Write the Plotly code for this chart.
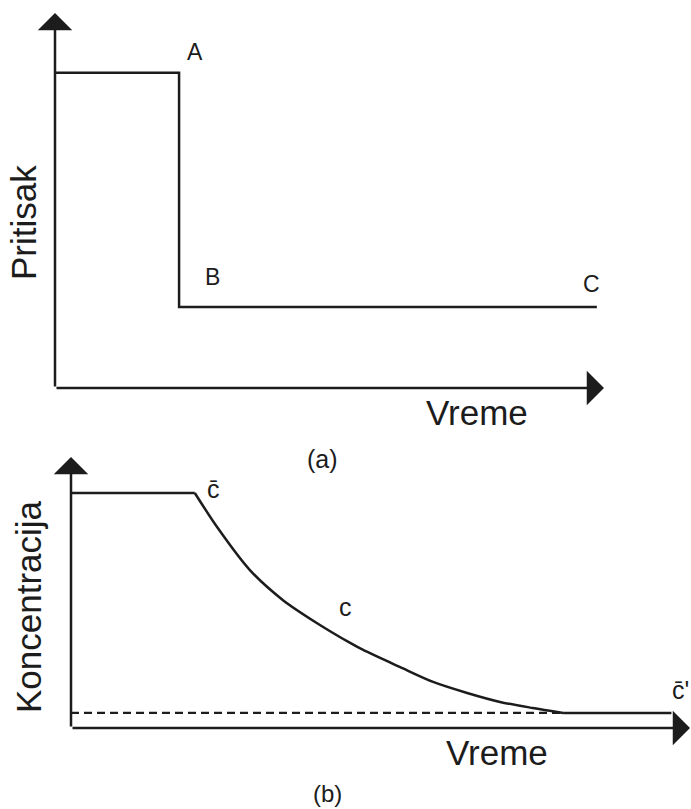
import plotly.graph_objects as go

W, H = 691, 809

# ---- Panel (a): pressure vs time (step) ----
t_a = [0, 2.26, 2.26, 9.87]
p_a = [1.0, 1.0, 0.257, 0.257]
a_xmax, a_ymax = 10, 1.19

# ---- Panel (b): concentration vs time ----
t_flat = [0, 2.0]
c_flat = [1.0, 1.0]
t_curve = [2.0, 2.36, 2.89, 3.42, 3.97, 4.51, 4.72, 5.31, 5.85, 6.40, 6.93, 7.46, 7.95]
c_curve = [1.0, 0.855, 0.672, 0.545, 0.447, 0.362, 0.332, 0.260, 0.196, 0.149, 0.111, 0.085, 0.064]
t_tail = [7.95, 9.7]
c_tail = [0.064, 0.064]
t_dash = [0, 7.95]
c_dash = [0.064, 0.064]
b_xmax, b_ymax = 10, 1.153

INK = "#1c1c1c"
FONT = "Liberation Sans, Arial, sans-serif"


def px(x):
    return x / W


def py(y):
    return 1 - y / H


fig = go.Figure()
lw = 2.5
fig.add_trace(go.Scatter(x=t_a, y=p_a, mode="lines", line=dict(color=INK, width=lw),
                         xaxis="x", yaxis="y", hoverinfo="skip"))
fig.add_trace(go.Scatter(x=t_flat, y=c_flat, mode="lines", line=dict(color=INK, width=lw),
                         xaxis="x2", yaxis="y2", hoverinfo="skip"))
fig.add_trace(go.Scatter(x=t_curve, y=c_curve, mode="lines",
                         line=dict(color=INK, width=lw, shape="spline", smoothing=0.8),
                         xaxis="x2", yaxis="y2", hoverinfo="skip"))
fig.add_trace(go.Scatter(x=t_tail, y=c_tail, mode="lines", line=dict(color=INK, width=lw),
                         xaxis="x2", yaxis="y2", hoverinfo="skip"))
fig.add_trace(go.Scatter(x=t_dash, y=c_dash, mode="lines",
                         line=dict(color=INK, width=2.2, dash="8px,5px"),
                         xaxis="x2", yaxis="y2", hoverinfo="skip"))

ax_common = dict(visible=False, fixedrange=True)
fig.update_layout(
    width=W, height=H,
    margin=dict(l=0, r=0, t=0, b=0),
    paper_bgcolor="white", plot_bgcolor="white",
    showlegend=False,
    xaxis=dict(domain=[px(55), px(604)], range=[0, a_xmax], anchor="y", **ax_common),
    yaxis=dict(domain=[py(388), py(13)], range=[0, a_ymax], anchor="x", **ax_common),
    xaxis2=dict(domain=[px(71), px(690)], range=[0, b_xmax], anchor="y2", **ax_common),
    yaxis2=dict(domain=[py(728), py(457)], range=[0, b_ymax], anchor="x2", **ax_common),
)

ann = []


def arrow(xref, yref, x, y, ax, ay):
    ann.append(dict(xref=xref, yref=yref, axref=xref, ayref=yref, x=x, y=y, ax=ax, ay=ay,
                    showarrow=True, arrowhead=1, arrowsize=2.3, arrowwidth=2.5,
                    arrowcolor=INK, standoff=0, text=""))


# axes arrows
arrow("x", "y", a_xmax, 0, 0, 0)
arrow("x", "y", 0, a_ymax, 0, 0)
arrow("x2", "y2", b_xmax, 0, 0, 0)
arrow("x2", "y2", 0, b_ymax, 0, 0)


def label(text, x, y, size, angle=0, xanchor="center"):
    ann.append(dict(xref="paper", yref="paper", x=px(x), y=py(y), text=text,
                    showarrow=False, xanchor=xanchor, yanchor="middle", textangle=angle,
                    font=dict(family=FONT, size=size, color=INK)))


label("A", 195, 52, 23)
label("B", 212, 277, 23)
label("C", 591, 284, 23)
label("Vreme", 477, 413, 35)
label("Pritisak", 23, 223, 35, angle=-90)
label("(a)", 322, 459, 25)
label("c\u0304", 213, 489, 25)
label("c", 345, 607, 25)
label("c\u0304'", 691, 690, 25, xanchor="right")
label("Vreme", 497, 752, 35)
label("Koncentracija", 28, 607, 35, angle=-90)
label("(b)", 327, 793, 24)

fig.update_layout(annotations=ann)
fig.write_html(
    "out.html",
    config={"displayModeBar": False, "staticPlot": True},
    post_script="document.body.style.margin='0';document.body.style.overflow='hidden';"
                "document.documentElement.style.overflow='hidden';",
)
